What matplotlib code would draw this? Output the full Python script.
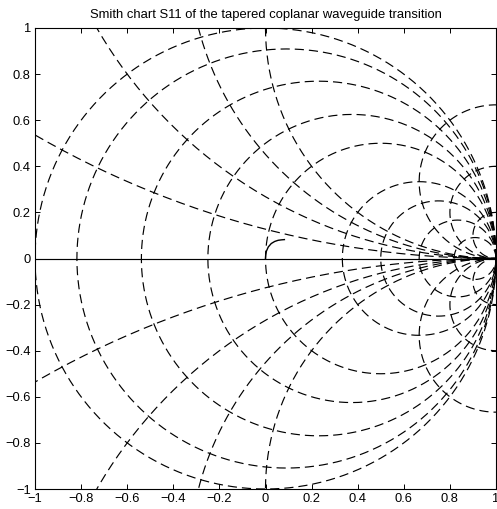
import numpy as np
import matplotlib
matplotlib.use("Agg")
import matplotlib.pyplot as plt

# Grid values of the Smith chart
r_values = [0, 0.1, 0.3, 0.6, 1, 2, 3, 5, 10]        # constant-resistance circles
x_values = [0.25, 0.5, 0.75, 1, 3, 5, 10]            # constant-reactance circles (+/-)

# Measured reflection coefficient S11 (real, imaginary)
s11_re = [0.0, 0.001, 0.004, 0.012, 0.025, 0.040, 0.055, 0.070, 0.082]
s11_im = [0.0, 0.015, 0.032, 0.050, 0.065, 0.074, 0.079, 0.081, 0.082]

tick_vals = [-1, -0.8, -0.6, -0.4, -0.2, 0, 0.2, 0.4, 0.6, 0.8, 1]
tick_text = ["\u22121", "\u22120.8", "\u22120.6", "\u22120.4", "\u22120.2", "0",
             "0.2", "0.4", "0.6", "0.8", "1"]

plt.rcParams["font.family"] = ["Liberation Sans", "DejaVu Sans"]
plt.rcParams["lines.scale_dashes"] = False

fig = plt.figure(figsize=(4.97, 5.09), dpi=100)
ax = fig.add_axes([35 / 497, 1 - 489 / 509, 461 / 497, 461 / 509])

dash = (0, (6.6, 3.6))
lw = 0.85
theta = np.linspace(0, 2 * np.pi, 721)

for r in r_values:
    c = r / (1 + r)
    R = 1 / (1 + r)
    ax.plot(c + R * np.cos(theta), R * np.sin(theta), color="black",
            lw=lw, linestyle=dash)

for x in x_values:
    R = 1 / x
    for sgn in (1, -1):
        ax.plot(1 + R * np.cos(theta), sgn * R + R * np.sin(theta),
                color="black", lw=lw, linestyle=dash)

# real axis
ax.plot([-1, 1], [0, 0], color="black", lw=lw)

# S11 trace
ax.plot(s11_re, s11_im, color="black", lw=1.0)

ax.set_xlim(-1, 1)
ax.set_ylim(-1, 1)
ax.set_xticks(tick_vals)
ax.set_xticklabels(tick_text)
ax.set_yticks(tick_vals)
ax.set_yticklabels(tick_text)
ax.tick_params(direction="in", length=3.5, width=0.7, top=True, right=True,
               labelsize=9.3, pad=3, colors="black")
for sp in ax.spines.values():
    sp.set_linewidth(0.8)

ax.set_title("Smith chart S11 of the tapered coplanar waveguide transition",
             fontsize=9.4, pad=7)

fig.savefig("out.png", dpi=100)
